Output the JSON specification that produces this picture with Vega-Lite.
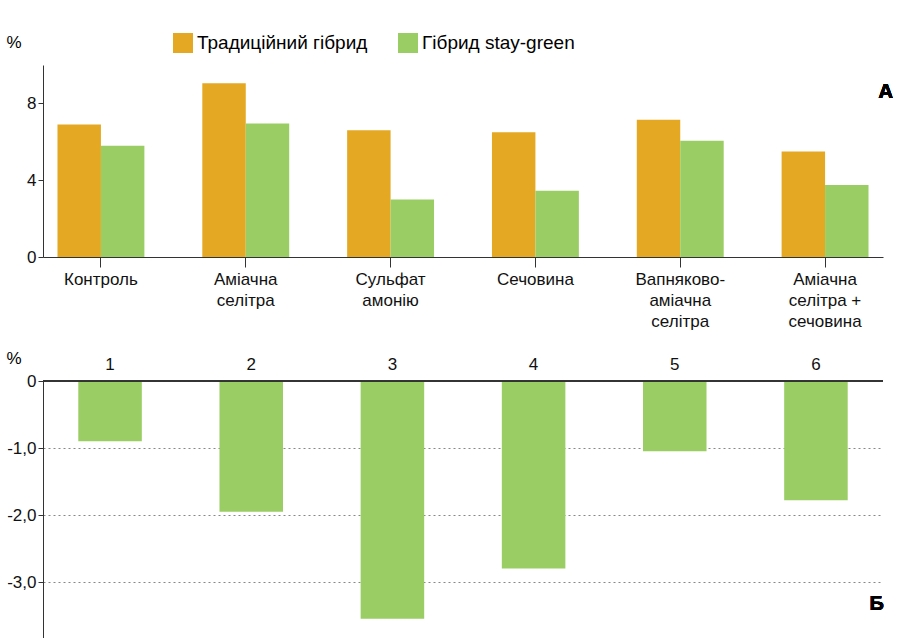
{
  "$schema": "https://vega.github.io/schema/vega-lite/v6.json",
  "padding": {"left": 5, "top": 33, "right": 0, "bottom": 0},
  "spacing": 20,
  "config": {
    "font": "Liberation Sans",
    "view": {"stroke": null},
    "axis": {"labelFontSize": 17, "labelColor": "#111", "domainColor": "#333", "tickColor": "#333", "titleFontSize": 17, "titleFontWeight": "normal", "labelOverlap": false}
  },
  "datasets": {
    "top": [
      {"cat": "Контроль", "hybrid": "Традиційний гібрид", "v": 6.9},
      {"cat": "Контроль", "hybrid": "Гібрид stay-green", "v": 5.8},
      {"cat": "Аміачна|селітра", "hybrid": "Традиційний гібрид", "v": 9.05},
      {"cat": "Аміачна|селітра", "hybrid": "Гібрид stay-green", "v": 6.95},
      {"cat": "Сульфат|амонію", "hybrid": "Традиційний гібрид", "v": 6.6},
      {"cat": "Сульфат|амонію", "hybrid": "Гібрид stay-green", "v": 3.0},
      {"cat": "Сечовина", "hybrid": "Традиційний гібрид", "v": 6.5},
      {"cat": "Сечовина", "hybrid": "Гібрид stay-green", "v": 3.45},
      {"cat": "Вапняково-|аміачна|селітра", "hybrid": "Традиційний гібрид", "v": 7.15},
      {"cat": "Вапняково-|аміачна|селітра", "hybrid": "Гібрид stay-green", "v": 6.05},
      {"cat": "Аміачна|селітра +|сечовина", "hybrid": "Традиційний гібрид", "v": 5.5},
      {"cat": "Аміачна|селітра +|сечовина", "hybrid": "Гібрид stay-green", "v": 3.75}
    ],
    "bottom": [
      {"n": "1", "v": -0.9},
      {"n": "2", "v": -1.95},
      {"n": "3", "v": -3.55},
      {"n": "4", "v": -2.8},
      {"n": "5", "v": -1.05},
      {"n": "6", "v": -1.78}
    ]
  },
  "vconcat": [
    {
      "width": 840,
      "height": 192,
      "data": {"name": "top"},
      "layer": [
        {
          "mark": {"type": "bar"},
          "encoding": {
            "x": {"field": "cat", "type": "nominal", "sort": null, "scale": {"paddingInner": 0.4, "paddingOuter": 0.1}, "axis": {"title": null, "labelAngle": 0, "labelExpr": "split(datum.label, '|')", "labelPadding": 4, "tickSize": 10, "labelLineHeight": 21}},
            "xOffset": {"field": "hybrid", "sort": ["Традиційний гібрид", "Гібрид stay-green"], "scale": {"paddingInner": 0, "paddingOuter": 0}},
            "y": {"field": "v", "type": "quantitative", "scale": {"domain": [0, 10]}, "axis": {"values": [0, 2, 4, 6, 8, 10], "grid": false, "title": "%", "titleAngle": 0, "titleAnchor": "end", "titleY": -14, "titleX": -22}},
            "color": {"field": "hybrid", "sort": ["Традиційний гібрид", "Гібрид stay-green"], "scale": {"range": ["#E5A823", "#9ACD63"]}, "legend": {"title": null, "orient": "none", "legendX": 130, "legendY": -32, "direction": "horizontal", "symbolType": "square", "symbolSize": 400, "symbolStrokeWidth": 0, "symbolOpacity": 1, "labelFontSize": 19, "labelLimit": 0, "columnPadding": 30}}
          }
        },
        {
          "mark": {"type": "text", "text": "А", "fontSize": 20, "fontWeight": "bold", "align": "right", "dx": 68},
          "encoding": {"x": {"datum": "Аміачна|селітра +|сечовина"}, "y": {"datum": 8.6}}
        }
      ]
    },
    {
      "width": 840,
      "height": 268,
      "data": {"name": "bottom"},
      "layer": [
        {
          "mark": {"type": "bar", "color": "#9ACD63"},
          "encoding": {
            "x": {"field": "n", "type": "nominal", "scale": {"paddingInner": 0.55, "paddingOuter": 0.25}, "axis": {"orient": "top", "title": null, "labelAngle": 0, "ticks": false, "domain": false, "labelPadding": 8}},
            "y": {"field": "v", "type": "quantitative", "scale": {"domain": [-4, 0]}, "axis": {"values": [0, -0.5, -1, -1.5, -2, -2.5, -3, -3.5, -4], "labelExpr": "datum.value == 0 ? '0' : replace(replace(format(datum.value, '.1f'), '.', ','), '−', '-')", "gridDash": [2, 3], "gridColor": "#888", "title": "%", "titleAngle": 0, "titleAnchor": "end", "titleY": -14, "titleX": -22}}
          }
        },
        {
          "mark": {"type": "rule", "color": "#333"},
          "encoding": {"y": {"datum": 0}}
        },
        {
          "mark": {"type": "text", "text": "Б", "fontSize": 20, "fontWeight": "bold", "align": "right", "dx": 68},
          "encoding": {"x": {"datum": "6"}, "y": {"datum": -3.33}}
        }
      ]
    }
  ]
}
